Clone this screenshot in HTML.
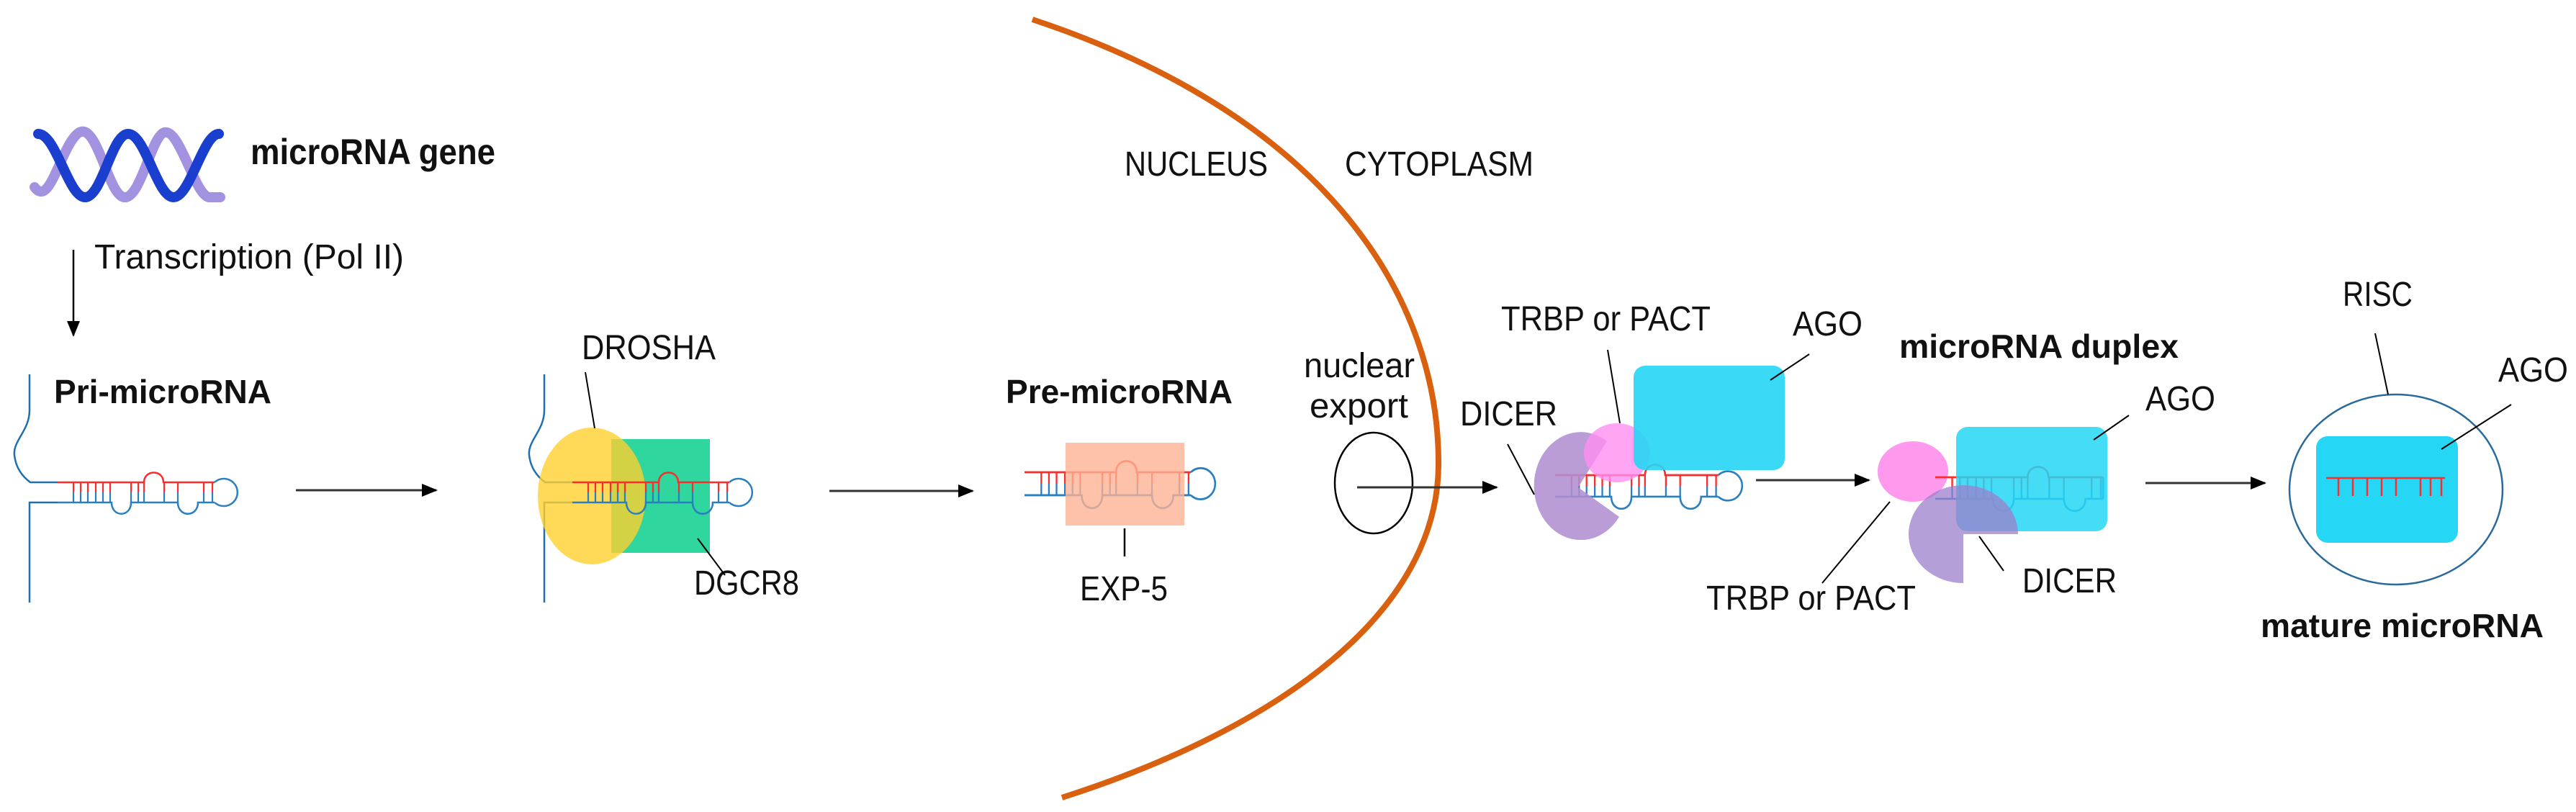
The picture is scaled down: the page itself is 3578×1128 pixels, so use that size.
<!DOCTYPE html>
<html><head><meta charset="utf-8">
<style>
html,body{margin:0;padding:0;background:#fff;}
svg{display:block;}
text{font-family:"Liberation Sans",sans-serif;fill:#111;}
.b{font-weight:bold;}
</style></head>
<body>
<svg width="3578" height="1128" viewBox="0 0 3578 1128" xmlns="http://www.w3.org/2000/svg">
<defs>
  <marker id="ah" markerWidth="22" markerHeight="18" refX="20" refY="9" orient="auto" markerUnits="userSpaceOnUse" viewBox="0 0 22 18">
    <path d="M0,0 L22,9 L0,18 Z" fill="#000"/>
  </marker>
  <g id="ticks">
    <g stroke="#ff2a2a" stroke-width="2.2">
      <path d="M102,670V684M112,670V684M122,670V684M133,670V684M143,670V684M153,670V684M182,670V684M192,670V684M200,670V684M228,670V684M247,670V684M283,670V684M295,670V684"/>
    </g>
    <g stroke="#2a7fc0" stroke-width="2.2">
      <path d="M102,684V698M112,684V698M122,684V698M133,684V698M143,684V698M153,684V698M182,684V698M192,684V698M200,684V698M228,684V698M247,684V698M283,684V698M295,684V698"/>
    </g>
  </g>
  <g id="stem" fill="none" stroke-width="2.5">
    <path d="M80,670 L200,670 C200,652 227,652 227,670 L298,670" stroke="#ff2a2a"/>
    <path d="M80,698 L155,698 C155,719 182,719 182,698 L247,698 C247,719 275,719 275,698 L298,698" stroke="#2a7fc0"/>
    <use href="#ticks"/>
  </g>
  <g id="hairpin">
    <use href="#stem"/>
    <path d="M298,670 A19,19 0 1 1 298,698" fill="none" stroke="#2a7fc0" stroke-width="2.5"/>
  </g>
  <g id="leader" fill="none" stroke="#1f70b0" stroke-width="2.5">
    <path d="M41,520 L41,570 C41,598 18,612 20,632 C22,652 34,664 42,670 L80,670"/>
    <path d="M80,698 L41,698 L41,837"/>
  </g>
</defs>

<!-- nucleus membrane -->
<path d="M1434,27 C1850,165 2000,420 1998,647 C1996,850 1780,1010 1475,1108" fill="none" stroke="#d9600e" stroke-width="8"/>

<!-- DNA helix -->
<path d="M48,260 C70,290 85,200 110,184 C135,170 150,270 172,274 C195,278 210,190 228,184 C250,178 270,270 290,274 L306,274" fill="none" stroke="#a392e0" stroke-width="14" stroke-linecap="round"/>
<path d="M53,186 C78,186 95,274 118,274 C142,274 155,186 178,186 C202,186 218,274 241,274 C264,274 282,186 304,186" fill="none" stroke="#1a3fcf" stroke-width="14" stroke-linecap="round"/>
<text class="b" x="348" y="228" font-size="50" textLength="340" lengthAdjust="spacingAndGlyphs">microRNA gene</text>

<!-- transcription -->
<line x1="102" y1="347" x2="102" y2="466" stroke="#000" stroke-width="2.5" marker-end="url(#ah)"/>
<text x="131" y="373" font-size="48" textLength="430" lengthAdjust="spacingAndGlyphs">Transcription (Pol II)</text>

<!-- Pri-miRNA -->
<text class="b" x="75" y="560" font-size="46" textLength="302" lengthAdjust="spacingAndGlyphs">Pri-microRNA</text>
<use href="#leader"/>
<use href="#hairpin"/>
<line x1="411" y1="681" x2="606" y2="681" stroke="#333" stroke-width="3" marker-end="url(#ah)"/>

<!-- Drosha stage -->
<g transform="translate(715,0)">
  <use href="#leader"/>
</g>
<rect x="849" y="610" width="137" height="158" fill="#2fd69e"/>
<ellipse cx="822" cy="689" rx="75" ry="95" fill="#ffd02e" opacity="0.8"/>
<g transform="translate(715,0)"><use href="#hairpin"/></g>
<text x="808" y="499" font-size="48" textLength="186" lengthAdjust="spacingAndGlyphs">DROSHA</text>
<line x1="813" y1="517" x2="826" y2="595" stroke="#000" stroke-width="2"/>
<text x="964" y="826" font-size="48" textLength="146" lengthAdjust="spacingAndGlyphs">DGCR8</text>
<line x1="969" y1="748" x2="1007" y2="799" stroke="#000" stroke-width="2"/>
<line x1="1152" y1="682" x2="1351" y2="682" stroke="#333" stroke-width="3" marker-end="url(#ah)"/>

<!-- Pre-miRNA -->
<text class="b" x="1397" y="560" font-size="46" textLength="315" lengthAdjust="spacingAndGlyphs">Pre-microRNA</text>
<g transform="translate(1423,656) scale(1.06,1.14) translate(-80,-670)"><use href="#hairpin"/></g>
<rect x="1480" y="615" width="165" height="115" fill="#fdb393" opacity="0.8"/>
<line x1="1562" y1="734" x2="1562" y2="773" stroke="#000" stroke-width="2.5"/>
<text x="1500" y="834" font-size="48" textLength="122" lengthAdjust="spacingAndGlyphs">EXP-5</text>

<text x="1562" y="244" font-size="48" textLength="199" lengthAdjust="spacingAndGlyphs">NUCLEUS</text>
<text x="1868" y="244" font-size="48" textLength="262" lengthAdjust="spacingAndGlyphs">CYTOPLASM</text>

<!-- nuclear export -->
<text x="1811" y="524" font-size="48" textLength="154" lengthAdjust="spacingAndGlyphs">nuclear</text>
<text x="1819" y="580" font-size="48" textLength="137" lengthAdjust="spacingAndGlyphs">export</text>
<ellipse cx="1908" cy="671" rx="54" ry="70" fill="none" stroke="#000" stroke-width="2.5"/>
<line x1="1885" y1="677" x2="2079" y2="677" stroke="#333" stroke-width="3" marker-end="url(#ah)"/>

<!-- Dicer stage -->
<g transform="translate(2160,660) scale(1.04,1.07) translate(-80,-670)"><use href="#hairpin"/></g>
<path d="M2192,677 L2232,613 A65,75 0 1 0 2249,718 Z" fill="#b08ed0" opacity="0.88"/>
<ellipse cx="2246" cy="629" rx="46" ry="41" fill="#ff8ef0" opacity="0.8"/>
<rect x="2269" y="508" width="210" height="145" rx="16" fill="#25d6f5" opacity="0.9"/>
<text x="2028" y="591" font-size="48" textLength="135" lengthAdjust="spacingAndGlyphs">DICER</text>
<line x1="2094" y1="617" x2="2131" y2="687" stroke="#000" stroke-width="2"/>
<text x="2085" y="459" font-size="48" textLength="291" lengthAdjust="spacingAndGlyphs">TRBP or PACT</text>
<line x1="2233" y1="486" x2="2250" y2="588" stroke="#000" stroke-width="2"/>
<text x="2490" y="466" font-size="48" textLength="97" lengthAdjust="spacingAndGlyphs">AGO</text>
<line x1="2513" y1="492" x2="2459" y2="528" stroke="#000" stroke-width="2"/>
<line x1="2439" y1="667" x2="2596" y2="667" stroke="#333" stroke-width="3" marker-end="url(#ah)"/>

<!-- microRNA duplex stage -->
<text class="b" x="2638" y="497" font-size="46" textLength="388" lengthAdjust="spacingAndGlyphs">microRNA duplex</text>
<ellipse cx="2657" cy="655" rx="49" ry="42" fill="#ff99ee"/>
<g transform="translate(2688,663) scale(1.07,1.07) translate(-80,-670)">
  <use href="#stem"/>
  <path d="M298,670V698" stroke="#2a7fc0" stroke-width="2.5"/>
</g>
<rect x="2717" y="593" width="210" height="145" rx="16" fill="#25d6f5" opacity="0.85"/>
<path d="M2727,742 L2803,742 A76,68 0 1 0 2727,810 Z" fill="#9c7fcc" opacity="0.75"/>
<text x="2980" y="570" font-size="48" textLength="97" lengthAdjust="spacingAndGlyphs">AGO</text>
<line x1="2957" y1="577" x2="2908" y2="611" stroke="#000" stroke-width="2"/>
<text x="2370" y="847" font-size="48" textLength="291" lengthAdjust="spacingAndGlyphs">TRBP or PACT</text>
<line x1="2531" y1="810" x2="2625" y2="697" stroke="#000" stroke-width="2"/>
<text x="2809" y="823" font-size="48" textLength="131" lengthAdjust="spacingAndGlyphs">DICER</text>
<line x1="2749" y1="745" x2="2783" y2="793" stroke="#000" stroke-width="2"/>
<line x1="2980" y1="671" x2="3146" y2="671" stroke="#333" stroke-width="3" marker-end="url(#ah)"/>

<!-- RISC -->
<ellipse cx="3328" cy="680" rx="148" ry="132" fill="none" stroke="#2a6a9a" stroke-width="2.5"/>
<rect x="3217" y="606" width="197" height="148" rx="16" fill="#25d6f5"/>
<g stroke="#ff2a2a" stroke-width="2.5" fill="none">
  <path d="M3231,664 L3396,664"/>
  <path d="M3248,664V689M3268,664V689M3288,664V689M3308,664V689M3328,664V689M3362,664V689M3376,664V689M3391,664V689"/>
</g>
<text x="3254" y="425" font-size="48" textLength="97" lengthAdjust="spacingAndGlyphs">RISC</text>
<line x1="3299" y1="463" x2="3317" y2="548" stroke="#000" stroke-width="2"/>
<text x="3470" y="530" font-size="48" textLength="97" lengthAdjust="spacingAndGlyphs">AGO</text>
<line x1="3488" y1="562" x2="3391" y2="624" stroke="#000" stroke-width="2"/>
<text class="b" x="3140" y="885" font-size="46" textLength="393" lengthAdjust="spacingAndGlyphs">mature microRNA</text>
</svg>
</body></html>
